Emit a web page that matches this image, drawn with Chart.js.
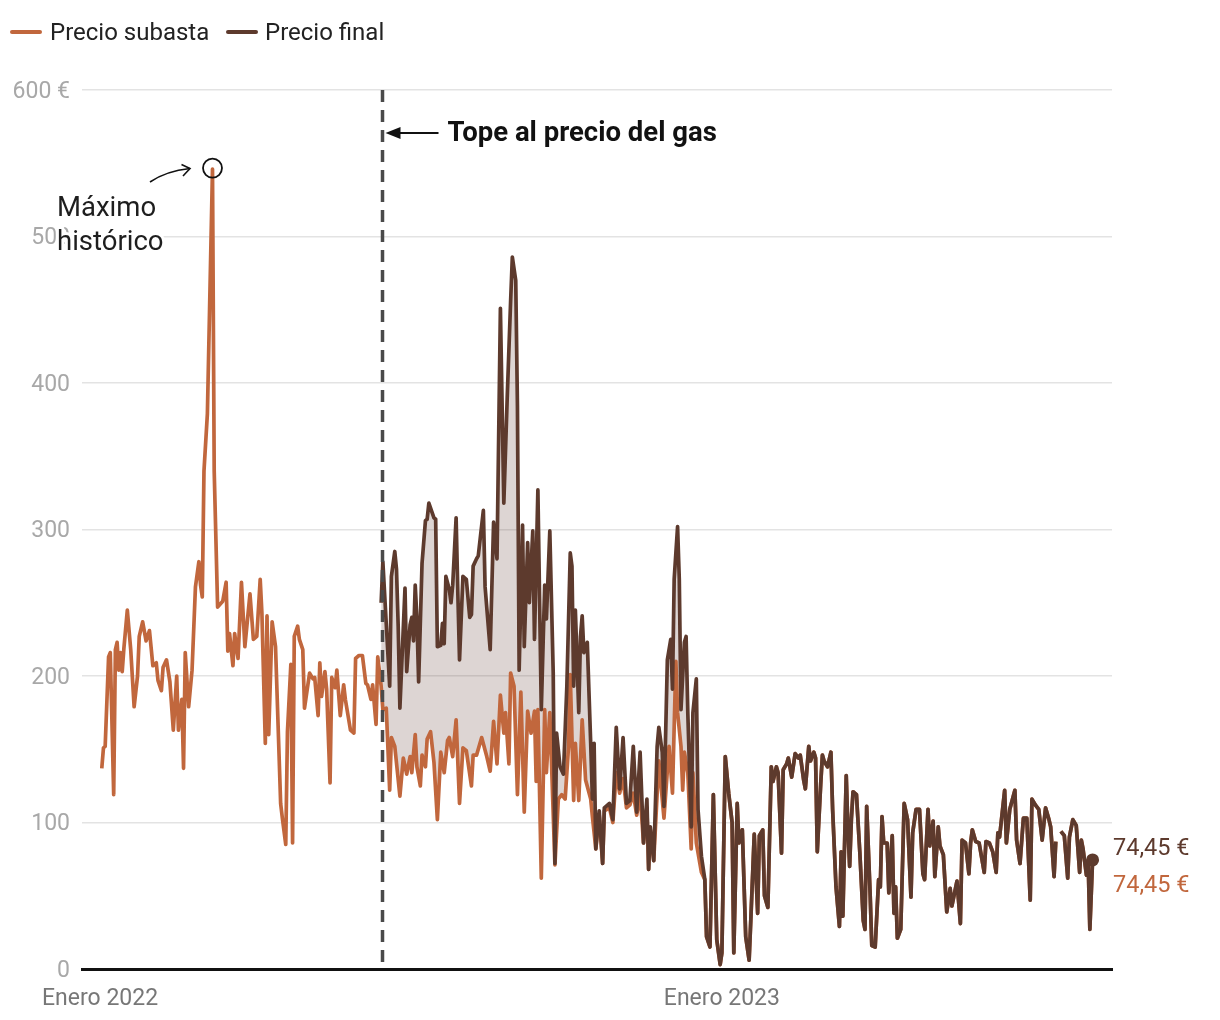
<!DOCTYPE html>
<html>
<head>
<meta charset="utf-8">
<script src="https://cdn.jsdelivr.net/npm/chart.js@4/dist/chart.umd.min.js"></script>
<style>
  html, body { margin: 0; padding: 0; background: #ffffff; }
  #c { display: block; }
</style>
</head>
<body>
<canvas id="c" width="1220" height="1020"></canvas>
<script>
// Days counted from 1 January 2022 (day 0).
const xTickDays = [0, 365];
const xTickLabels = ['Enero 2022', 'Enero 2023'];
const yTicks = [0, 100, 200, 300, 400, 500, 600];
const topeDay = 165.5;            // 15 June 2022
const maxDay = 66, maxValue = 546; // Máximo histórico
const lastValueLabel = '74,45 €';

// Precio subasta (€/MWh)
const subastaDay = [1,2,3,5,6,8,9,10,11,12,13,14,16,18,20,22,23,25,27,29,31,33,34,36,37,39,41,43,45,46,48,49,50,52,54,56,58,59,60,61,63,66,67,69,72,74,75,76,78,79,81,83,85,88,90,92,94,95,97,98,99,101,103,106,107,109,110,112,113,114,116,117,119,120,123,125,126,128,129,130,132,133,135,136,138,139,141,143,144,147,149,150,152,154,156,157,159,160,162,163,165,
  166,168,170,171,173,176,178,180,182,183,185,186,188,189,191,192,194,196,198,200,202,204,205,207,209,211,213,215,218,219,221,224,227,229,231,233,235,237,238,240,241,243,245,247,249,251,253,255,256,257,259,261,262,264,267,269,271,273,275,276,278,279,281,283,285,288,289,
  291,293,295,296,299,301,303,305,307,309,311,313,315,317,319,321,322,323,325,328,331,334,336,338,339,341,342,343,345,347,348,350,353];
const subastaVal = [137,151,152,213,216,119,218,223,204,216,203,219,245,218,179,200,227,237,224,231,207,209,197,190,206,211,196,163,200,163,184,137,216,179,204,261,278,262,254,340,379,546,340,247,251,264,217,229,207,229,212,264,220,256,225,227,266,243,154,241,160,237,220,113,103,85,162,208,86,227,234,225,218,178,202,198,199,173,209,186,203,191,127,199,192,204,173,194,184,163,161,212,214,214,195,194,184,194,167,213,193,
  177,178,122,158,152,118,144,133,145,134,160,138,125,146,138,157,162,141,102,148,134,156,158,145,170,113,151,149,125,146,146,158,145,135,169,140,187,161,175,140,202,193,119,189,107,176,161,176,128,177,62,177,134,175,71,116,119,116,152,201,115,154,115,170,129,116,104,
  82,105,72,108,110,100,134,120,130,110,112,120,105,120,86,110,68,95,74,142,103,152,120,210,175,152,122,148,134,82,134,86,66];

// Precio final (€/MWh); null = gap in the published series
const finalDay = [165,166,170,171,173,174,175,176,179,180,182,183,184,185,186,187,189,191,192,193,196,197,198,200,201,202,203,205,206,207,209,210,211,213,215,217,218,219,221,222,225,226,229,231,233,235,237,239,241,242,244,245,246,248,249,251,252,254,255,257,259,261,262,264,266,267,268,270,272,274,276,277,278,279,281,282,283,284,286,288,289,290,
  291,293,295,296,299,301,303,305,307,309,311,313,315,317,319,321,322,323,325,327,328,330,331,333,335,336,337,339,340,341,343,344,345,347,348,350,351,353,355,356,358,360,362,364,365,367,369,371,372,374,375,377,379,381,382,384,386,387,389,390,392,394,395,397,398,400,401,403,404,406,408,410,411,413,414,416,417,419,420,421,423,424,425,427,429,430,432,434,435,436,438,439,440,441,442,444,446,448,449,450,452,453,455,457,458,459,460,462,463,465,466,467,468,470,472,474,476,477,479,481,483,484,486,487,489,490,492,493,495,497,499,500,503,505,506,508,510,511,512,514,516,519,520,522,524,526,527,528,531,532,534,537,538,540,542,544,546,547,549,551,553,555,557,558,560,561,562,564,566,568,569,571,573,575,576,577,579,580,581,582.6];
const finalVal = [250,278,193,268,285,273,234,178,260,203,235,240,224,262,239,196,277,306,307,318,308,307,220,221,236,222,268,259,250,262,308,257,211,268,266,240,242,275,280,282,313,261,218,305,280,451,318,390,456,486,470,384,204,303,220,291,250,299,225,327,177,262,239,299,202,72,161,138,133,193,284,275,193,245,175,227,241,216,223,154,116,154,
  82,108,72,110,113,102,165,123,158,113,115,152,107,148,86,116,68,97,74,152,165,148,111,211,225,191,266,302,266,177,223,227,175,97,175,198,109,77,61,22,15,119,20,3,11,145,120,100,11,113,86,95,22,6,34,92,38,91,95,50,42,138,128,138,134,79,136,140,144,131,147,144,146,129,123,152,142,148,144,80,126,146,142,138,148,109,56,29,80,36,132,95,70,102,121,119,79,33,27,111,52,16,15,61,56,104,86,86,52,91,38,56,21,27,113,102,49,93,109,109,65,61,109,84,101,63,97,84,78,39,55,43,60,31,88,86,65,86,95,87,86,66,87,86,80,66,93,90,122,86,109,122,88,72,103,103,47,116,112,109,88,110,102,97,63,87,null,94,91,62,90,102,98,66,88,82,64,74,27,74.45];

const ORANGE = '#c1673d';
const BROWN = '#5d3a2d';
const FILL = 'rgba(93,58,45,0.21)';

const finalPts = finalDay.map((d, i) => ({ x: d, y: finalVal[i] }));
const subastaOwn = subastaDay.map((d, i) => ({ x: d, y: subastaVal[i] }));
// From mid-December 2022 the two prices coincide: the subasta line runs under the final one.
const lastSub = subastaDay[subastaDay.length - 1];
const subastaPts = subastaOwn.concat(finalPts.filter(p => p.x > lastSub));

const annotations = {
  id: 'annotations',
  afterDatasetsDraw(chart) {
    const { ctx, chartArea, scales } = chart;
    const xs = scales.x, ys = scales.y;
    ctx.save();
    // dashed vertical line
    const xd = Math.round(xs.getPixelForValue(topeDay)) + 0.5;
    ctx.strokeStyle = '#4a4a4a';
    ctx.lineWidth = 3.5;
    ctx.setLineDash([12, 8]);
    ctx.beginPath();
    ctx.moveTo(xd, chartArea.top);
    ctx.lineTo(xd, chartArea.bottom);
    ctx.stroke();
    ctx.setLineDash([]);

    // arrow + label for tope
    const ya = 133;
    ctx.strokeStyle = '#111';
    ctx.fillStyle = '#111';
    ctx.lineWidth = 2;
    ctx.beginPath();
    ctx.moveTo(xd + 56, ya);
    ctx.lineTo(xd + 14, ya);
    ctx.stroke();
    ctx.beginPath();
    ctx.moveTo(xd + 3, ya);
    ctx.lineTo(xd + 18, ya - 6);
    ctx.lineTo(xd + 18, ya + 6);
    ctx.closePath();
    ctx.fill();
    ctx.font = 'bold 27.5px Roboto';
    ctx.textAlign = 'left';
    ctx.textBaseline = 'middle';
    ctx.fillText('Tope al precio del gas', xd + 65, ya + 1);

    // circle at historic maximum
    const cx = xs.getPixelForValue(maxDay), cy = ys.getPixelForValue(maxValue);
    ctx.lineWidth = 1.8;
    ctx.beginPath();
    ctx.arc(cx, cy - 1, 9.5, 0, Math.PI * 2);
    ctx.stroke();
    // curved arrow
    ctx.lineWidth = 1.6;
    ctx.beginPath();
    ctx.moveTo(150, 182);
    ctx.quadraticCurveTo(166, 171, 190, 168.5);
    ctx.stroke();
    ctx.beginPath();
    ctx.moveTo(181.5, 164.5);
    ctx.lineTo(190, 168.5);
    ctx.lineTo(183, 176);
    ctx.stroke();

    // text with white halo
    ctx.font = '27.5px Roboto';
    ctx.lineJoin = 'round';
    ctx.strokeStyle = '#ffffff';
    ctx.lineWidth = 6;
    ctx.strokeText('Máximo', 57, 209);
    ctx.strokeText('histórico', 57, 243);
    ctx.fillStyle = '#1e1e1e';
    ctx.fillText('Máximo', 57, 209);
    ctx.fillText('histórico', 57, 243);

    // end labels
    ctx.font = '23.5px Roboto';
    ctx.fillStyle = BROWN;
    ctx.fillText(lastValueLabel, 1113, 849);
    ctx.fillStyle = ORANGE;
    ctx.fillText(lastValueLabel, 1113, 886);

    // legend
    ctx.lineWidth = 4;
    ctx.lineCap = 'round';
    ctx.strokeStyle = ORANGE;
    ctx.beginPath(); ctx.moveTo(12, 32); ctx.lineTo(40, 32); ctx.stroke();
    ctx.strokeStyle = BROWN;
    ctx.beginPath(); ctx.moveTo(228, 32); ctx.lineTo(256, 32); ctx.stroke();
    ctx.font = '24px Roboto';
    ctx.fillStyle = '#222';
    ctx.fillText('Precio subasta', 50, 34);
    ctx.fillText('Precio final', 265, 34);
    ctx.restore();
  }
};

new Chart(document.getElementById('c'), {
  type: 'line',
  data: {
    datasets: [
      {
        label: 'Precio final',
        data: finalPts,
        borderColor: BROWN,
        borderWidth: 3.7,
        backgroundColor: FILL,
        fill: { target: 1 },
        tension: 0,
        spanGaps: false,
        pointRadius: c => (c.dataIndex === finalPts.length - 1 ? 6.5 : 0),
        pointBackgroundColor: BROWN,
        pointBorderWidth: 0,
        borderJoinStyle: 'round'
      },
      {
        label: 'Precio subasta',
        data: subastaPts,
        borderColor: ORANGE,
        borderWidth: 3.7,
        fill: false,
        tension: 0,
        spanGaps: false,
        pointRadius: 0,
        borderJoinStyle: 'round'
      }
    ]
  },
  options: {
    responsive: false,
    animation: false,
    events: [],
    layout: { padding: { top: 90, right: 108, left: 0, bottom: 0 } },
    scales: {
      x: {
        type: 'linear',
        min: -10.6,
        max: 594,
        grid: { display: false },
        border: { display: true, color: '#111', width: 3 },
        afterBuildTicks: s => { s.ticks = xTickDays.map(v => ({ value: v })); },
        afterFit: s => { s.height = 51; },
        ticks: {
          autoSkip: false,
          maxRotation: 0,
          padding: 8,
          color: '#777',
          font: { family: 'Roboto', size: 23 },
          callback: v => xTickLabels[xTickDays.indexOf(v)]
        }
      },
      y: {
        min: 0,
        max: 600,
        afterBuildTicks: s => { s.ticks = yTicks.map(v => ({ value: v })); },
        afterFit: s => { s.width = 82; },
        border: { display: false },
        grid: { color: '#e3e3e3', lineWidth: 1.5, drawTicks: false },
        ticks: {
          padding: 12,
          labelOffset: 2,
          color: '#a8a8a8',
          font: { family: 'Roboto', size: 23 },
          callback: v => (v === 600 ? '600 €' : String(v))
        }
      }
    },
    plugins: {
      legend: { display: false },
      tooltip: { enabled: false },
      filler: { drawTime: 'beforeDatasetsDraw' }
    }
  },
  plugins: [annotations]
});
</script>
</body>
</html>
